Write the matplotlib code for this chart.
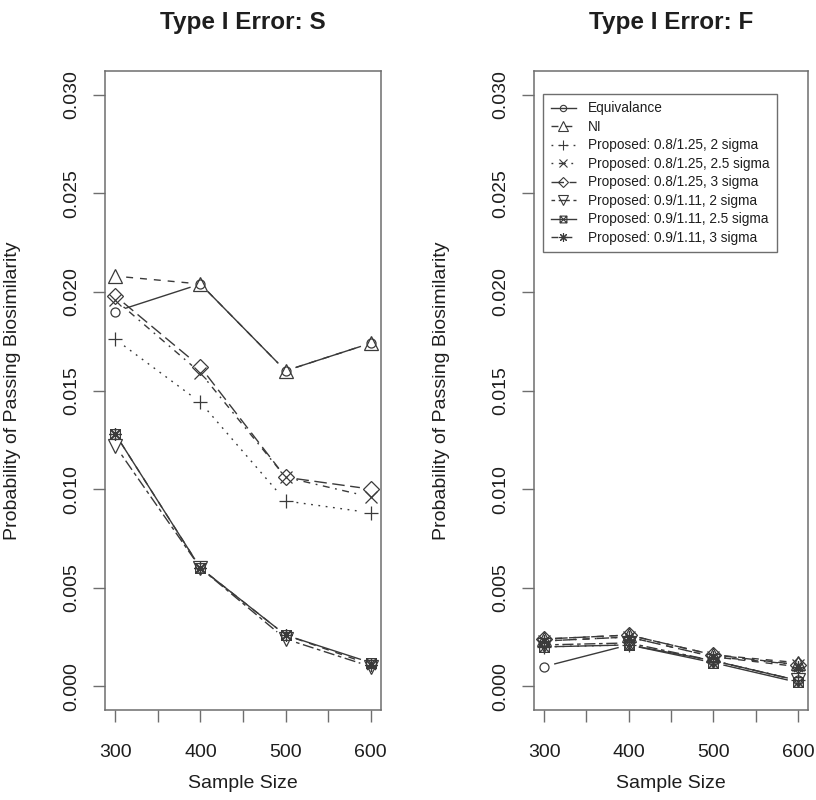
import matplotlib
matplotlib.use("Agg")
import matplotlib.pyplot as plt
from matplotlib.path import Path
from matplotlib.lines import Line2D
import numpy as np

plt.rcParams['font.family'] = ['Liberation Sans', 'DejaVu Sans']

sizes = [300, 400, 500, 600]
labels = ["Equivalance", "NI",
          "Proposed: 0.8/1.25, 2 sigma", "Proposed: 0.8/1.25, 2.5 sigma",
          "Proposed: 0.8/1.25, 3 sigma", "Proposed: 0.9/1.11, 2 sigma",
          "Proposed: 0.9/1.11, 2.5 sigma", "Proposed: 0.9/1.11, 3 sigma"]

# Type I error: S
equiv_s = [0.0190, 0.0204, 0.0160, 0.0174]
ni_s = [0.0208, 0.0204, 0.0160, 0.0174]
p1_s = [0.0176, 0.0144, 0.0094, 0.0088]
p2_s = [0.0196, 0.0159, 0.0106, 0.0096]
p3_s = [0.0198, 0.0162, 0.0106, 0.0100]
p4_s = [0.0122, 0.0060, 0.0024, 0.0010]
p5_s = [0.0128, 0.0060, 0.0026, 0.0012]
p6_s = [0.0128, 0.0060, 0.0026, 0.0011]

# Type I error: F
equiv_f = [0.0010, 0.0021, 0.0013, 0.0003]
ni_f = [0.0024, 0.0026, 0.0016, 0.0012]
p1_f = [0.0020, 0.0021, 0.0013, 0.0003]
p2_f = [0.0023, 0.0025, 0.0015, 0.0011]
p3_f = [0.0024, 0.0026, 0.0016, 0.0011]
p4_f = [0.0021, 0.0022, 0.0013, 0.0003]
p5_f = [0.0020, 0.0021, 0.0012, 0.0002]
p6_f = [0.0023, 0.0025, 0.0015, 0.0010]

series_s = [equiv_s, ni_s, p1_s, p2_s, p3_s, p4_s, p5_s, p6_s]
series_f = [equiv_f, ni_f, p1_f, p2_f, p3_f, p4_f, p5_f, p6_f]

# R style lty 1..6,1,2
styles = ['-', (0, (5, 5)), (0, (1.3, 4)), (0, (1.3, 4, 5, 4)),
          (0, (9, 4)), (0, (2.6, 2.6, 8, 2.6)), '-', (0, (5, 5))]

# square with x (pch 7)
boxx = Path([(-1, -1), (1, -1), (1, 1), (-1, 1), (-1, -1),
             (-1, -1), (1, 1), (-1, 1), (1, -1)],
            [Path.MOVETO, Path.LINETO, Path.LINETO, Path.LINETO, Path.CLOSEPOLY,
             Path.MOVETO, Path.LINETO, Path.MOVETO, Path.LINETO])
markers = ['o', '^', '+', 'x', 'D', 'v', boxx, (8, 2, 0)]
msizes = [6.5, 10, 10, 8, 8, 10, 7, 9]

LC = '#3a3a3a'
BOX = '#6e6e6e'
TXT = '#1e1e1e'
GAP = 11  # px, like R type="b"

px = 1 / 100
fig = plt.figure(figsize=(816 * px, 800 * px), dpi=100)
ax1 = fig.add_axes([105 / 816, 90 / 800, 276 / 816, 639 / 800])
ax2 = fig.add_axes([534 / 816, 90 / 800, 274 / 816, 639 / 800])


def draw(ax, series, title):
    ax.set_xlim(288, 612)
    ax.set_ylim(-0.0012, 0.0312)
    for sp in ax.spines.values():
        sp.set_color(BOX)
        sp.set_linewidth(1.1)
    ax.set_xticks([300, 350, 400, 450, 500, 550, 600])
    ax.set_xticklabels(['300', '', '400', '', '500', '', '600'])
    ax.set_yticks([0, 0.005, 0.010, 0.015, 0.020, 0.025, 0.030])
    ax.set_yticklabels(['0.000', '0.005', '0.010', '0.015', '0.020', '0.025', '0.030'])
    ax.tick_params(direction='out', length=8.6, width=1.0, color=BOX,
                   labelsize=14, labelcolor=TXT)
    ax.tick_params(axis='x', pad=16)
    ax.tick_params(axis='y', pad=9, labelrotation=90)
    for t in ax.get_yticklabels():
        t.set_va('center')
    ax.set_xlabel('Sample Size', fontsize=14, color=TXT, labelpad=10)
    ax.set_ylabel('Probability of Passing Biosimilarity', fontsize=14, color=TXT)
    ax.yaxis.set_label_coords(-0.305, 0.5)

    fig.canvas.draw()
    tr = ax.transData
    for vals, ls, mk, ms in zip(series, styles, markers, msizes):
        pts = tr.transform(np.column_stack([sizes, vals]))
        for a, b in zip(pts[:-1], pts[1:]):
            d = b - a
            n = np.hypot(*d)
            if n <= 2 * GAP:
                continue
            u = d / n
            seg = tr.inverted().transform(np.array([a + u * GAP, b - u * GAP]))
            ax.plot(seg[:, 0], seg[:, 1], color=LC, lw=1.0, linestyle=ls)
        ax.plot(sizes, vals, linestyle='none', marker=mk, ms=ms,
                mfc='none', mec=LC, mew=0.9)
    fig.text((ax.get_position().x0 + ax.get_position().x1) / 2, 1 - 22 / 800,
             title, ha='center', va='center', fontsize=17.5,
             fontweight='bold', color=TXT)


draw(ax1, series_s, 'Type I Error: S')
draw(ax2, series_f, 'Type I Error: F')

handles = [Line2D([], [], color=LC, lw=1.0, linestyle=ls, marker=mk,
                  ms=ms * 0.7, mfc='none', mec=LC, mew=0.8)
           for ls, mk, ms in zip(styles, markers, msizes)]
leg = ax2.legend(handles, labels, loc='upper left',
                 bbox_to_anchor=(0.033, 0.964), borderaxespad=0,
                 fontsize=9.8, handlelength=1.9, handletextpad=0.85,
                 labelspacing=0.33, borderpad=0.55, fancybox=False,
                 framealpha=1, edgecolor=BOX, labelcolor=TXT)
leg.get_frame().set_linewidth(1.0)

fig.savefig('out.png', dpi=100)
